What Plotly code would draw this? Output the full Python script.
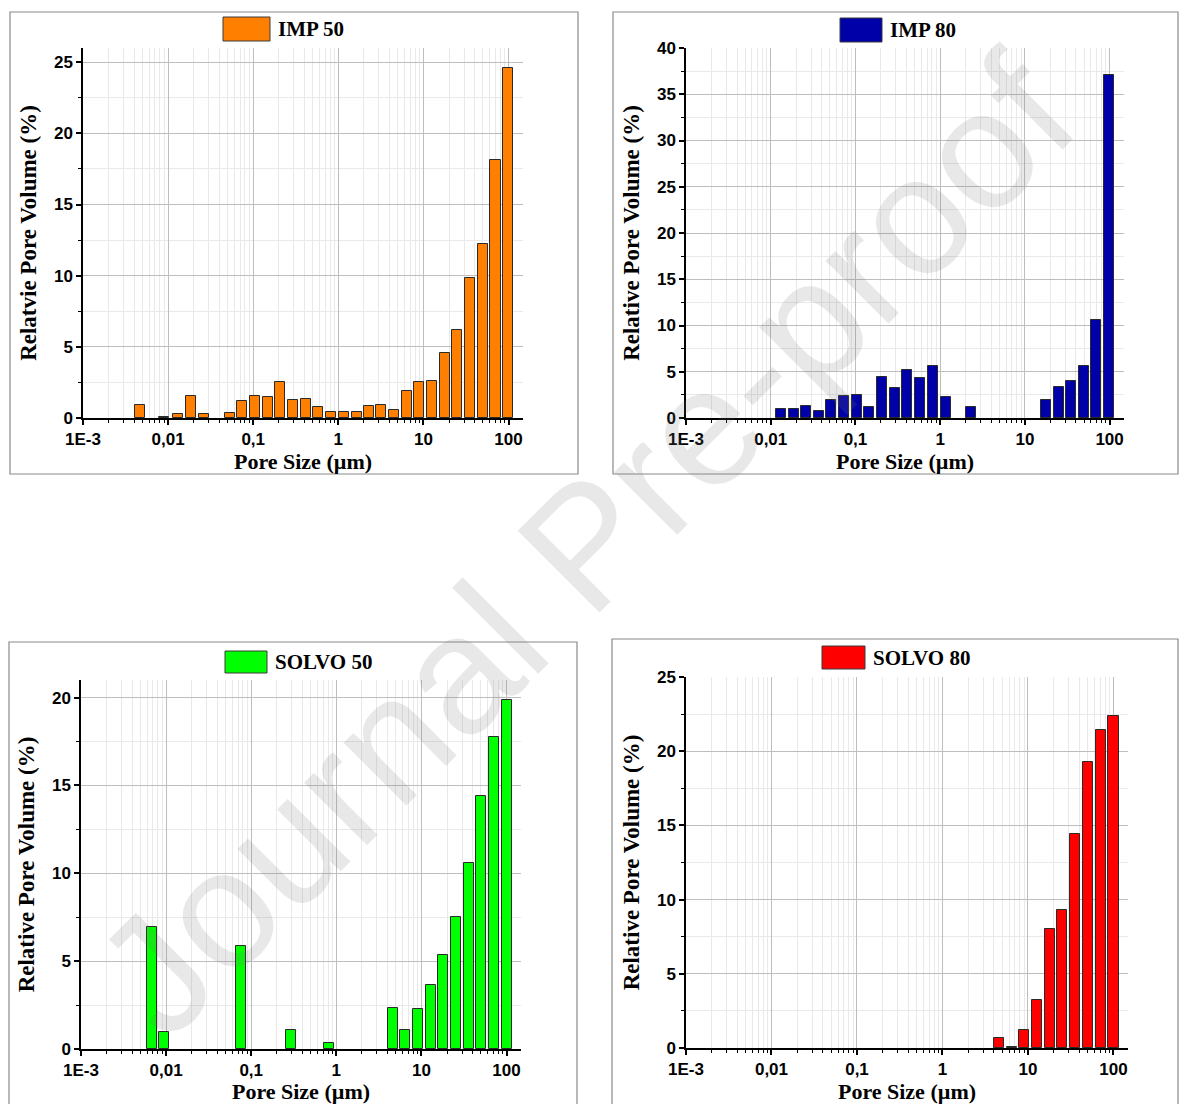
import numpy as np
import plotly.graph_objects as go

W, H = 1180, 1104

# ---------------- data ----------------
tick_vals_log = [-3, -2, -1, 0, 1, 2]
tick_text = ["1E-3", "0,01", "0,1", "1", "10", "100"]

imp50_size = [0.0047, 0.0089, 0.0132, 0.0188, 0.0266, 0.0527, 0.0743, 0.105, 0.148, 0.208,
              0.29, 0.413, 0.58, 0.81, 1.16, 1.64, 2.27, 3.2, 4.5, 6.4,
              8.97, 12.6, 17.8, 25.0, 35.4, 49.9, 70.3, 99.0]
imp50_vol = [0.89, 0.05, 0.28, 1.52, 0.30, 0.37, 1.17, 1.52, 1.45, 2.50,
             1.24, 1.33, 0.77, 0.40, 0.40, 0.40, 0.82, 0.94, 0.54, 1.90,
             2.50, 2.60, 4.59, 6.20, 9.81, 12.22, 18.13, 24.60]

imp80_size = [0.0132, 0.0187, 0.026, 0.0368, 0.052, 0.073, 0.103, 0.146, 0.207, 0.292,
              0.41, 0.575, 0.82, 1.16, 2.3, 17.9, 25.0, 35.3, 50.0, 70.0, 99.0]
imp80_vol = [0.94, 0.94, 1.30, 0.76, 1.99, 2.35, 2.50, 1.19, 4.44, 3.21,
             5.16, 4.33, 5.63, 2.27, 1.16, 1.95, 3.39, 4.04, 5.60, 10.58, 37.08]

solvo50_size = [0.0068, 0.0095, 0.075, 0.294, 0.82, 4.58, 6.46, 9.0, 12.8, 18.0,
                25.4, 35.8, 50.5, 71.0, 101.0]
solvo50_vol = [6.93, 0.98, 5.85, 1.10, 0.36, 2.35, 1.10, 2.25, 3.67, 5.37,
               7.53, 10.58, 14.38, 17.73, 19.85]

solvo80_size = [4.58, 6.45, 9.0, 12.7, 17.9, 25.0, 35.7, 50.0, 70.6, 100.0]
solvo80_vol = [0.67, 0.07, 1.24, 3.26, 8.02, 9.28, 14.45, 19.24, 21.46, 22.40]

series_names = ["IMP 50", "IMP 80", "SOLVO 50", "SOLVO 80"]
series_colors = ["#FF8000", "#0000A8", "#00FF00", "#FF0000"]
y_titles = ["Relatvie Pore Volume (%)", "Relative Pore Volume (%)",
            "Relative Pore Volume (%)", "Relative Pore Volume (%)"]
y_max = [26, 40, 21, 25]

sizes = [imp50_size, imp80_size, solvo50_size, solvo80_size]
vols = [imp50_vol, imp80_vol, solvo50_vol, solvo80_vol]

# ---------------- layout geometry (pixels) ----------------
# plot areas: (left, right, top, bottom)
areas = [(83, 523, 48, 418), (686, 1124, 48, 418), (81, 521, 680, 1049), (686, 1128, 677, 1048)]
frames = [(10, 578, 12, 474), (613, 1178, 12, 474), (9, 577, 642, 1112), (612, 1178, 639, 1112)]
legend_swatch = [(223, 270, 17, 41), (840, 882, 18, 42), (225, 267, 651, 673), (822, 865, 646, 669)]

def fx(px):
    return px / W

def fy(py):
    return 1 - py / H

minor_x = [np.log10(k * 10.0 ** n) for n in range(-3, 3) for k in range(2, 10)
           if np.log10(k * 10.0 ** n) < 2.17]

SERIF = "Liberation Serif"
SANS = "Liberation Sans"

fig = go.Figure()
shapes = []
annotations = []

for i in range(4):
    xa = "x" if i == 0 else f"x{i+1}"
    ya = "y" if i == 0 else f"y{i+1}"
    fig.add_trace(go.Bar(
        x=np.log10(sizes[i]), y=vols[i], width=0.118,
        marker=dict(color=series_colors[i], line=dict(color="#2a2a2a", width=1)),
        xaxis=xa, yaxis=ya, showlegend=False, name=series_names[i],
    ))
    l, r, t, b = areas[i]
    axis_common = dict(showline=True, linecolor="black", linewidth=1.5,
                       ticks="outside", tickcolor="black", tickwidth=1.5,
                       zeroline=False, mirror=False, automargin=False,
                       tickfont=dict(family=SANS, size=17, color="black", weight="bold"))
    xkey = "xaxis" if i == 0 else f"xaxis{i+1}"
    ykey = "yaxis" if i == 0 else f"yaxis{i+1}"
    fig.update_layout(**{
        xkey: dict(domain=[fx(l), fx(r)], anchor=ya, range=[-3, 2.17],
                   tickmode="array", tickvals=tick_vals_log, ticktext=tick_text,
                   ticklen=5, showgrid=True, gridcolor="#bdbdbd", gridwidth=1,
                   minor=dict(tickmode="array", tickvals=minor_x, ticks="outside", ticklen=3,
                              tickcolor="black", tickwidth=1, showgrid=True,
                              gridcolor="#e9e9e9", gridwidth=1),
                   title=dict(text="Pore Size (µm)", standoff=1,
                              font=dict(family=SERIF, size=22, color="black", weight="bold")),
                   **axis_common),
        ykey: dict(domain=[fy(b), fy(t)], anchor=xa, range=[0, y_max[i]],
                   tickmode="linear", tick0=0, dtick=5, ticklen=5,
                   showgrid=True, gridcolor="#bdbdbd", gridwidth=1,
                   minor=dict(dtick=2.5, ticks="outside", ticklen=3, tickcolor="black",
                              tickwidth=1, showgrid=True, gridcolor="#e9e9e9", gridwidth=1),
                   title=dict(text=y_titles[i], standoff=11,
                              font=dict(family=SERIF, size=23, color="black", weight="bold")),
                   **axis_common),
    })
    # panel frame
    fl, fr, ft, fb = frames[i]
    shapes.append(dict(type="rect", xref="paper", yref="paper", x0=fx(fl), x1=fx(fr),
                       y0=fy(fb), y1=fy(ft), line=dict(color="#8a8a8a", width=1.2),
                       fillcolor="rgba(0,0,0,0)", layer="below"))
    # legend swatch + label
    sl, sr, st, sb = legend_swatch[i]
    shapes.append(dict(type="rect", xref="paper", yref="paper", x0=fx(sl), x1=fx(sr),
                       y0=fy(sb), y1=fy(st), line=dict(color="#3a3a3a", width=1),
                       fillcolor=series_colors[i]))
    annotations.append(dict(text=series_names[i], xref="paper", yref="paper",
                            x=fx(sr + 6), y=fy((st + sb) / 2), xanchor="left", yanchor="middle",
                            showarrow=False,
                            font=dict(family=SERIF, size=21, color="black", weight="bold")))

# watermark
annotations.append(dict(text="Journal Pre-proof", xref="paper", yref="paper",
                        x=fx(585), y=fy(545), xanchor="center", yanchor="middle",
                        showarrow=False, textangle=-45,
                        font=dict(family="Liberation Sans", size=168,
                                  color="rgba(120,120,120,0.17)")))

fig.update_layout(width=W, height=H, margin=dict(l=0, r=0, t=0, b=0, autoexpand=False),
                  paper_bgcolor="white", plot_bgcolor="white",
                  shapes=shapes, annotations=annotations, bargap=0)

fig.write_html("out.html")
